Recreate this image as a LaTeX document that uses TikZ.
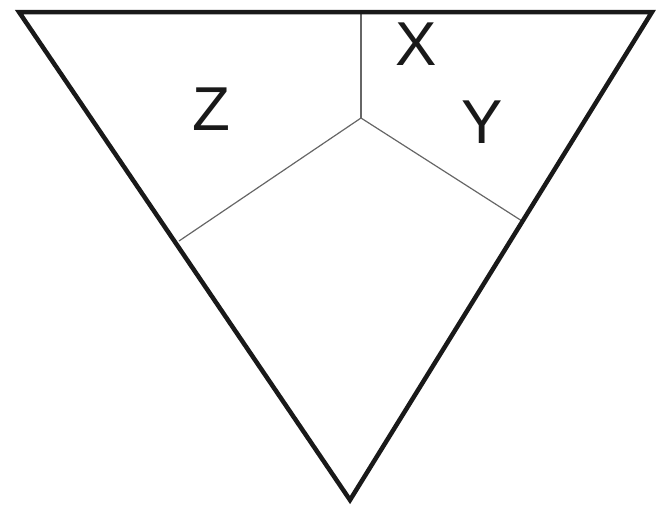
\documentclass[tikz,border=0pt]{standalone}
\usepackage{fontspec}
\setmainfont{Liberation Sans}
\usepackage{tikz}
\usetikzlibrary{positioning,calc}
\tikzset{
  edgeT/.style={line width=4.5pt, line join=miter, black!90},
  cutT/.style={line width=1.2pt, gray!80!black},
  regT/.style={font=\fontsize{62}{64}\selectfont, inner sep=0pt, anchor=base, text=black!90},
}

\begin{document}
\begin{tikzpicture}[x=1pt, y=-1pt]
\useasboundingbox (0,0) rectangle (656,507);
%% Triangle corners
\coordinate (tL) at (19,12);
\coordinate (tR) at (652,12);
\coordinate (bot) at (350,500);
%% Inner point and cut ends
\coordinate (mid) at (361,118);
\coordinate (cTop) at (361,12);
\coordinate (cLeft) at (179,241);
\coordinate (cRight) at (522,221);

%% Cuts
\draw[cutT] (mid) -- (cTop);
\draw[cutT] (mid) -- (cLeft);
\draw[cutT] (mid) -- (cRight);

%% Outline
\draw[edgeT] (tL) -- (tR) -- (bot) -- cycle;

%% Labels
\node[regT] (lX) at (416,65) {X};
\node[regT] (lY) at (482,143) {Y};
\node[regT] (lZ) at (211,130) {Z};
\end{tikzpicture}
\end{document}
